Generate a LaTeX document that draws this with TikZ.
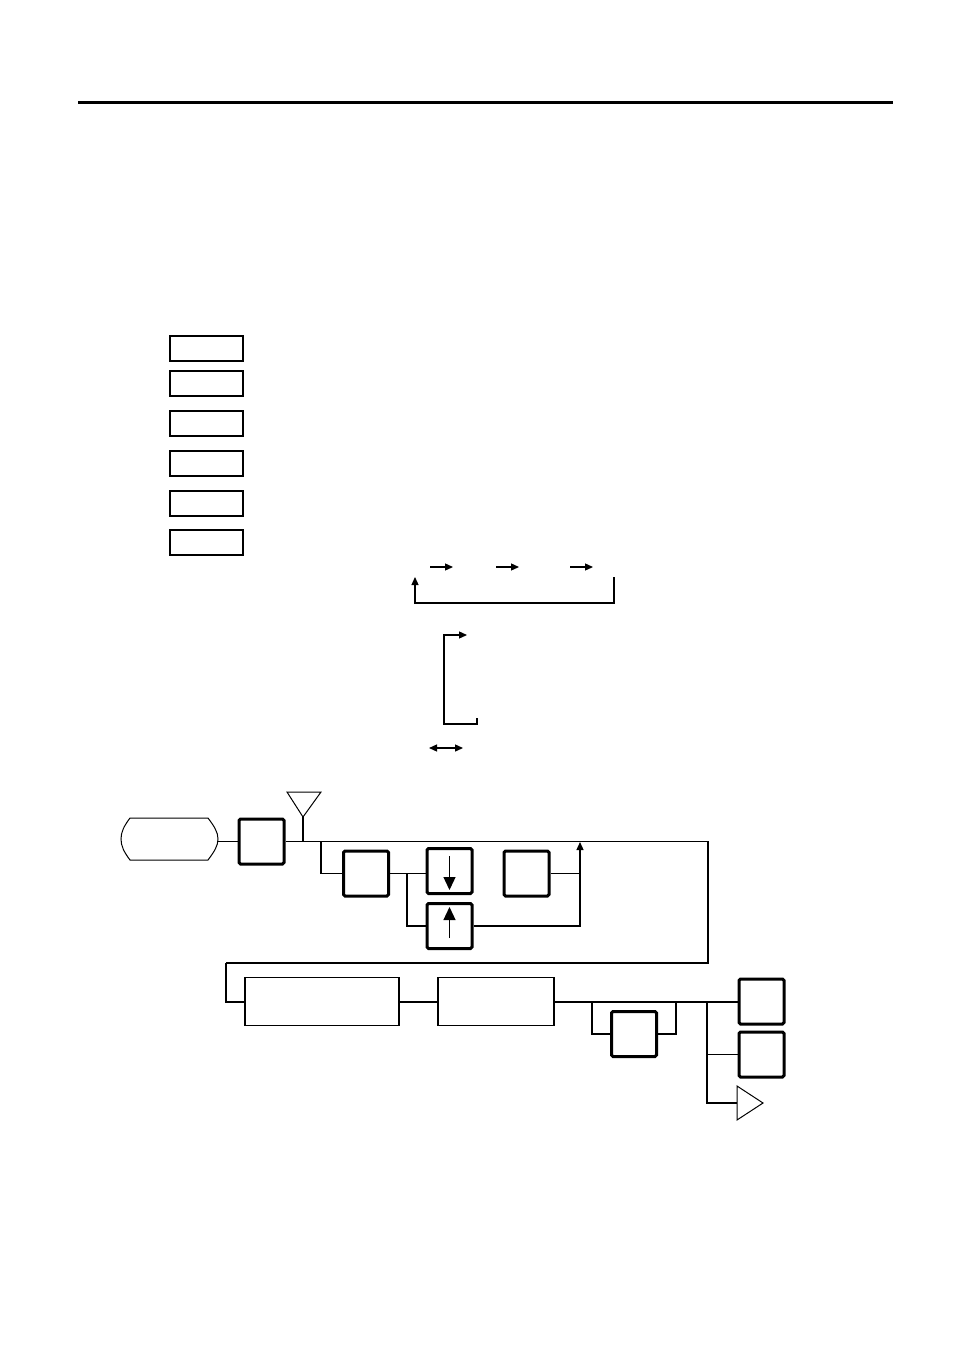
\documentclass[tikz,border=0pt]{standalone}
\usetikzlibrary{arrows.meta}
\begin{document}
\begin{tikzpicture}[x=1pt,y=-1pt,
  legendbox/.style={draw, line width=2pt, minimum width=73pt, minimum height=25pt, inner sep=0pt},
  keybox/.style={draw, line width=3pt, rounded corners=1.5pt, minimum width=45pt, minimum height=45pt, inner sep=0pt},
  plainbox/.style={draw, line width=1.6pt, minimum height=48pt, inner sep=0pt},
  link/.style={line width=1.3pt},
  boldlink/.style={line width=2pt},
  smalltip/.style={-{Triangle[length=8pt,width=7pt]}},
  bigtip/.style={-{Triangle[length=13pt,width=12pt]}},
  tri/.style={draw, line width=1pt}]
\useasboundingbox (0,0) rectangle (954,1351);
% top rule
\coordinate (ruleL) at (78,103);
\coordinate (ruleR) at (893,103);
\draw[line width=3pt] (ruleL) -- (ruleR);
% legend boxes
\node[legendbox] (l1) at (206,348.5) {};
\node[legendbox] (l2) at (206,383.5) {};
\node[legendbox] (l3) at (206,423.5) {};
\node[legendbox] (l4) at (206,463.5) {};
\node[legendbox] (l5) at (206,503.5) {};
\node[legendbox] (l6) at (206,542.5) {};
% legend arrows
\coordinate (a1s) at (430,567); \coordinate (a1e) at (453,567);
\coordinate (a2s) at (496,567); \coordinate (a2e) at (519,567);
\coordinate (a3s) at (570,567); \coordinate (a3e) at (593,567);
\draw[link,smalltip] (a1s) -- (a1e);
\draw[link,smalltip] (a2s) -- (a2e);
\draw[link,smalltip] (a3s) -- (a3e);
\coordinate (lpA) at (614,577);
\coordinate (lpC) at (614,603);
\coordinate (lpB) at (415,577);
\draw[link,smalltip] (lpA) -- (lpC) -| (lpB);
\coordinate (brA) at (477,718);
\coordinate (brB) at (477,724);
\coordinate (brC) at (444,724);
\coordinate (brD) at (444,635);
\coordinate (brE) at (467,635);
\draw[link,smalltip] (brA) -- (brB) -- (brC) -- (brD) -- (brE);
\coordinate (dbA) at (429,748);
\coordinate (dbB) at (463,748);
\draw[link,{Triangle[length=8pt,width=7pt]}-{Triangle[length=8pt,width=7pt]}] (dbA) -- (dbB);
% start terminal
\node[minimum width=97pt, minimum height=42pt, inner sep=0pt] (start) at (169.5,839) {};
\draw[line width=1pt] (130,818) -- (208,818) .. controls (214,826) and (218,832) .. (218,839)
  .. controls (218,846) and (214,852) .. (208,860) -- (130,860)
  .. controls (124,852) and (121,846) .. (121,839) .. controls (121,832) and (124,826) .. (130,818) -- cycle;
% main boxes
\node[keybox] (A) at (261.5,841.5) {};
\node[keybox] (B) at (366,873.5) {};
\node[keybox] (Dn) at (449.5,871) {};
\node[keybox] (Up) at (449.5,926) {};
\node[keybox] (C) at (526.5,873.5) {};
\node[plainbox, minimum width=154pt] (D) at (322,1001.5) {};
\node[plainbox, minimum width=116pt, line width=1.8pt] (E) at (496,1001.5) {};
\node[keybox] (F) at (634,1034) {};
\node[keybox] (G) at (761.5,1001.5) {};
\node[keybox] (H) at (761.5,1054.5) {};
% triangles
\draw[tri] (287,792) -- (321,792) -- (303,817) -- cycle;
\coordinate (tri1) at (303,817);
\draw[tri] (737,1086) -- (763,1103) -- (737,1120) -- cycle;
\coordinate (tri2) at (737,1103);
% arrows inside key boxes
\draw[link,bigtip] ([yshift=-9pt]Dn.north) -- ([yshift=5pt]Dn.south);
\draw[link,bigtip] ([yshift=12pt]Up.south) -- ([yshift=-5pt]Up.north);
% connectors
\coordinate (jr) at (708,963);
\coordinate (jl) at (226,963);
\draw[link] (start.east |- A.west) -- (A.west);
\draw[link] (A.east) -| (jr) -- (jl);
\draw[boldlink] (jl) |- (D.west);
\draw[link] (tri1) -- (tri1 |- A.east);
\coordinate (b1) at (321,841);
\draw[link] (b1) |- (B.west);
\draw[link] (B.east) -- (B.east -| Dn.west);
\coordinate (b2) at (407,873.5);
\draw[link] (b2) |- (Up.west);
\coordinate (cr) at (580,842);
\draw[link,smalltip] (Up.east) -| (cr);
\draw[link] (C.east) -- (C.east -| cr);
\draw[boldlink] (D.east) -- (E.west);
\draw[boldlink] (E.east) -- (G.west);
\coordinate (f1) at (592,1001.5);
\coordinate (f2) at (676,1001.5);
\draw[link] (f1) |- (F.west);
\draw[link] (F.east) -| (f2);
\coordinate (g1) at (707,1001.5);
\draw[link] (g1) |- (H.west);
\draw[link] (g1) |- (tri2);
\end{tikzpicture}
\end{document}
